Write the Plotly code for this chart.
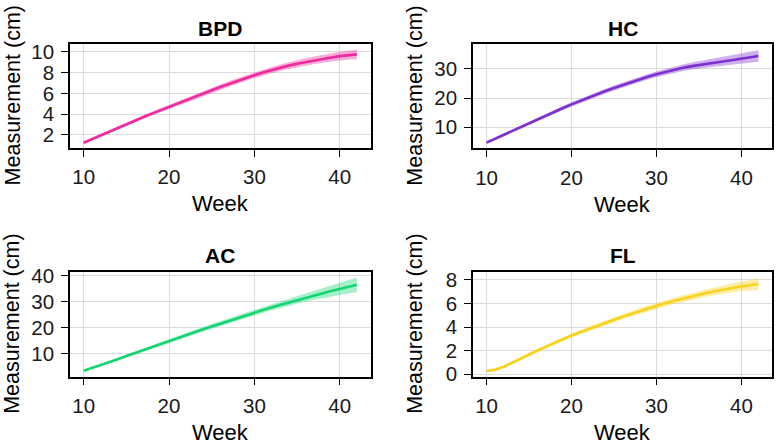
import numpy as np
import plotly.graph_objects as go

weeks = list(range(10, 43))

bpd_median = [1.25, 1.61, 1.97, 2.33, 2.68, 3.03, 3.38, 3.72, 4.05, 4.38, 4.70, 5.03, 5.36,
              5.68, 5.99, 6.30, 6.60, 6.90, 7.19, 7.47, 7.74, 8.00, 8.24, 8.46, 8.66, 8.84,
              9.01, 9.17, 9.32, 9.45, 9.57, 9.66, 9.74]
bpd_spread = [0.1, 0.11, 0.12, 0.13, 0.14, 0.15, 0.16, 0.17, 0.18, 0.19, 0.2, 0.21, 0.22, 0.23,
              0.24, 0.25, 0.25, 0.26, 0.26, 0.27, 0.28, 0.29, 0.3, 0.31, 0.32, 0.33, 0.35,
              0.36, 0.38, 0.4, 0.42, 0.44, 0.46]

hc_median = [4.7, 6.05, 7.40, 8.75, 10.09, 11.42, 12.74, 14.04, 15.32, 16.58, 17.82, 19.01,
             20.17, 21.30, 22.40, 23.46, 24.48, 25.46, 26.40, 27.30, 28.16, 28.96, 29.68,
             30.32, 30.88, 31.38, 31.83, 32.25, 32.65, 33.04, 33.43, 33.90, 34.45]
hc_spread = [0.4, 0.43, 0.46, 0.49, 0.52, 0.55, 0.58, 0.61, 0.64, 0.67, 0.7, 0.73, 0.76, 0.79,
             0.82, 0.85, 0.88, 0.91, 0.94, 0.97, 1.0, 1.05, 1.1, 1.15, 1.2, 1.25, 1.3, 1.4,
             1.5, 1.6, 1.7, 1.85, 2.0]

ac_median = [3.4, 4.45, 5.55, 6.70, 7.87, 9.05, 10.23, 11.41, 12.58, 13.74, 14.89, 16.03,
             17.16, 18.28, 19.39, 20.49, 21.58, 22.66, 23.73, 24.79, 25.84, 26.84, 27.82,
             28.78, 29.72, 30.64, 31.54, 32.42, 33.28, 34.12, 34.94, 35.74, 36.52]
ac_spread = [0.3, 0.34, 0.38, 0.42, 0.46, 0.5, 0.54, 0.58, 0.62, 0.66, 0.7, 0.74, 0.78, 0.82,
             0.86, 0.9, 0.94, 0.98, 1.02, 1.06, 1.1, 1.17, 1.24, 1.31, 1.38, 1.44, 1.5, 1.7,
             1.9, 2.1, 2.35, 2.6, 2.8]

fl_median = [0.27, 0.39, 0.63, 0.96, 1.32, 1.68, 2.03, 2.36, 2.68, 2.99, 3.29, 3.57, 3.84,
             4.11, 4.37, 4.63, 4.88, 5.12, 5.36, 5.59, 5.81, 6.02, 6.22, 6.41, 6.59, 6.76,
             6.92, 7.07, 7.21, 7.34, 7.46, 7.56, 7.66]
fl_spread = [0.08, 0.09, 0.1, 0.1, 0.11, 0.12, 0.13, 0.14, 0.15, 0.16, 0.17, 0.18, 0.19, 0.2,
             0.21, 0.22, 0.22, 0.23, 0.24, 0.24, 0.25, 0.26, 0.27, 0.28, 0.29, 0.3, 0.32,
             0.34, 0.36, 0.39, 0.42, 0.46, 0.5]

titles = ["BPD", "HC", "AC", "FL"]
colors = ["#EE2A9E", "#7E2FCF", "#14D670", "#F8D21C"]
band_colors = ["rgba(238,42,158,0.38)", "rgba(126,47,207,0.38)",
               "rgba(20,214,112,0.38)", "rgba(248,210,28,0.38)"]
medians = [bpd_median, hc_median, ac_median, fl_median]
spreads = [bpd_spread, hc_spread, ac_spread, fl_spread]
y_ranges = [[0.75, 10.75], [2.7, 38.6], [1.1, 41.5], [-0.21, 8.69]]
y_ticks = [[2, 4, 6, 8, 10], [10, 20, 30], [10, 20, 30, 40], [0, 2, 4, 6, 8]]
x_ticks = [10, 20, 30, 40]

W, H = 776, 447
# plot boxes in pixels: (left, right, top, bottom)
boxes = [(70, 370.5, 37.3, 145.5), (473, 772, 37.3, 146),
         (70, 370.5, 274.3, 383.3), (473, 772, 274.3, 383.3)]

FONT = "Liberation Sans, Arial, sans-serif"
fig = go.Figure()
layout = dict(
    width=W, height=H, margin=dict(l=0, r=0, t=0, b=0),
    paper_bgcolor="white", plot_bgcolor="white", showlegend=False,
    font=dict(family=FONT, color="black"),
)
annotations = []
for i in range(4):
    xa = "x" if i == 0 else f"x{i+1}"
    ya = "y" if i == 0 else f"y{i+1}"
    med = np.array(medians[i])
    sp = np.array(spreads[i])
    lower = med - sp
    upper = med + sp
    fig.add_trace(go.Scatter(x=weeks, y=lower, mode="lines", line=dict(width=0),
                             xaxis=xa, yaxis=ya, hoverinfo="skip"))
    fig.add_trace(go.Scatter(x=weeks, y=upper, mode="lines", line=dict(width=0),
                             fill="tonexty", fillcolor=band_colors[i],
                             xaxis=xa, yaxis=ya, hoverinfo="skip"))
    fig.add_trace(go.Scatter(x=weeks, y=med, mode="lines",
                             line=dict(color=colors[i], width=2.6),
                             xaxis=xa, yaxis=ya))
    l, r, t, b = boxes[i]
    xdom = [l / W, r / W]
    ydom = [1 - b / H, 1 - t / H]
    common = dict(showline=True, linecolor="black", linewidth=1.5, mirror=True,
                  ticks="outside", ticklen=7, tickwidth=1.2, tickcolor="black",
                  showgrid=True, gridcolor="#dcdcdc", gridwidth=1, zeroline=False,
                  tickfont=dict(size=20.5, color="#1a1a1a", family=FONT))
    layout["xaxis" if i == 0 else f"xaxis{i+1}"] = dict(
        domain=xdom, range=[8.4, 43.6], tickvals=x_ticks,
        anchor=ya, ticklabelstandoff=3, **common)
    layout["yaxis" if i == 0 else f"yaxis{i+1}"] = dict(
        domain=ydom, range=y_ranges[i], tickvals=y_ticks[i],
        anchor=xa, ticklabelstandoff=3, **common)
    cx = (l + r) / 2
    annotations.append(dict(text=f"<b>{titles[i]}</b>", x=cx / W, y=1 - (t - 16.5) / H,
                            xref="paper", yref="paper", showarrow=False,
                            xanchor="center", yanchor="middle",
                            font=dict(size=21, family=FONT, color="black")))
    annotations.append(dict(text="Week", x=cx / W, y=1 - (b + 58) / H,
                            xref="paper", yref="paper", showarrow=False,
                            xanchor="center", yanchor="middle",
                            font=dict(size=22, family=FONT, color="black")))
    annotations.append(dict(text="Measurement (cm)", x=(l - 57.5) / W, y=1 - ((t + b) / 2) / H,
                            xref="paper", yref="paper", showarrow=False, textangle=-90,
                            xanchor="center", yanchor="middle",
                            font=dict(size=21.5, family=FONT, color="black")))
layout["annotations"] = annotations
fig.update_layout(**layout)
fig.write_html("out.html")
